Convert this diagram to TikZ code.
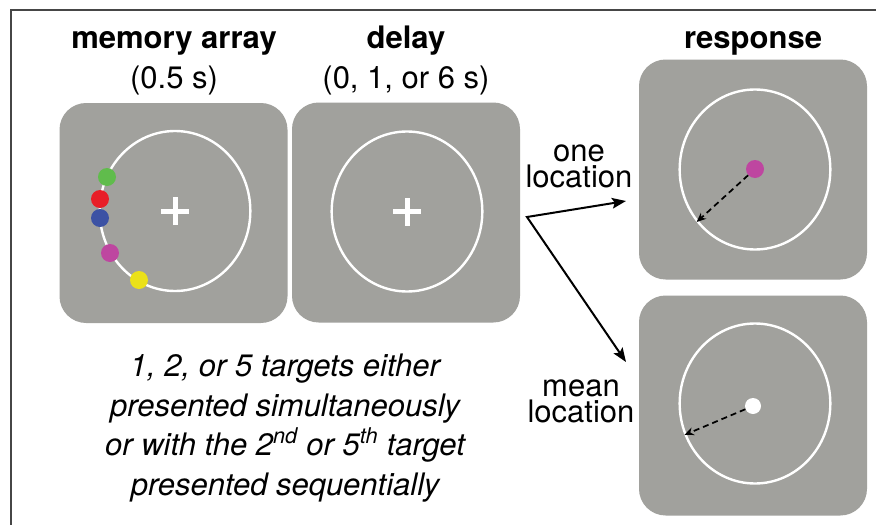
\documentclass[tikz,border=0pt]{standalone}
\usepackage{fontspec}
\setmainfont{TeX Gyre Heros}
\usetikzlibrary{arrows.meta,shapes.geometric}
\definecolor{panelgray}{RGB}{161,161,157}
\definecolor{framegray}{RGB}{70,70,70}
\definecolor{dotgreen}{RGB}{96,188,76}
\definecolor{dotred}{RGB}{232,30,40}
\definecolor{dotblue}{RGB}{60,82,164}
\definecolor{dotmagenta}{RGB}{190,70,160}
\definecolor{dotyellow}{RGB}{235,225,25}
\begin{document}
\begin{tikzpicture}[x=0.75pt,y=-0.75pt,
  panel/.style={fill=panelgray, draw=none, rounded corners=20pt, inner sep=0pt,
    minimum width=171pt, minimum height=165pt},
  ring/.style={ellipse, draw=white, line width=1.8pt, inner sep=0pt,
    minimum width=113pt, minimum height=120pt},
  dot/.style={circle, inner sep=0pt, minimum size=13.5pt},
  crossline/.style={white, line width=3.75pt},
  titletext/.style={font=\fontsize{23.25}{28}\selectfont\bfseries, anchor=base},
  subtext/.style={font=\fontsize{23.25}{28}\selectfont, anchor=base},
  sidelabel/.style={font=\fontsize{23.25}{19.5}\selectfont, align=center, anchor=base},
  mainarrow/.style={line width=1.5pt, {Stealth[length=10.5pt,width=8pt,inset=2pt]}-{Stealth[length=10.5pt,width=8pt,inset=2pt]}},
  dasharrow/.style={line width=1.3pt, dash pattern=on 4.5pt off 3pt, -{Stealth[length=7pt,width=6pt]}}
]
\useasboundingbox (0,0) rectangle (876,525);
\fill[white] (0,0) rectangle (876,525);
\draw[framegray, line width=1.1pt] (11,525) -- (11,10) -- (876,10);

% titles
\node[titletext] (t1) at (174,48) {memory array};
\node[subtext] (s1) at (174,88) {(0.5 s)};
\node[titletext] (t2) at (406,48) {delay};
\node[subtext] (s2) at (406,88) {(0, 1, or 6 s)};
\node[titletext] (t3) at (753,48) {response};

% panels
\node[panel] (p1) at (173.5,213) {};
\node[panel] (p2) at (406,212.5) {};
\node[panel] (p3) at (753,169.5) {};
\node[panel] (p4) at (753,405.5) {};

% rings
\node[ring] (r1) at (175,211) {};
\node[ring] (r2) at (407,211.5) {};
\node[ring] (r3) at (755,169.5) {};
\node[ring] (r4) at (755,403.5) {};

% crosses
\draw[crossline] ([xshift=-10.5pt]r1.center) -- ([xshift=10.5pt]r1.center);
\draw[crossline] ([yshift=-10.5pt]r1.center) -- ([yshift=10.5pt]r1.center);
\draw[crossline] ([xshift=-10.5pt]r2.center) -- ([xshift=10.5pt]r2.center);
\draw[crossline] ([yshift=-10.5pt]r2.center) -- ([yshift=10.5pt]r2.center);

% memory dots
\node[dot, fill=dotgreen] (dg) at (107,177) {};
\node[dot, fill=dotred] (dr) at (100,199) {};
\node[dot, fill=dotblue] (db) at (100,218) {};
\node[dot, fill=dotmagenta] (dm) at (110,253) {};
\node[dot, fill=dotyellow] (dy) at (139,280) {};

% response dots
\node[dot, fill=dotmagenta] (rm) at (755,169) {};
\node[dot, fill=white, minimum size=12pt] (rw) at (753,406) {};
\draw[dasharrow] (rm) -- (r3.222);
\draw[dasharrow] (rw) -- (r4.204);

% branching arrows
\coordinate (split) at (527,217);
\coordinate (toOne) at (626,201);
\coordinate (toMean) at (626,362);
\draw[mainarrow] (toOne) -- (split) -- (toMean);

\node[sidelabel] (lone) at (579,187) {one\\location};
\node[sidelabel] (lmean) at (581,422) {mean\\location};

% caption
\node[font=\fontsize{23.25}{29.6}\selectfont\itshape, align=center, anchor=base] (cap) at (285,495)
  {1, 2, or 5 targets either\\presented simultaneously\\or with the 2\textsuperscript{nd} or 5\textsuperscript{th} target\\presented sequentially};
\end{tikzpicture}
\end{document}
